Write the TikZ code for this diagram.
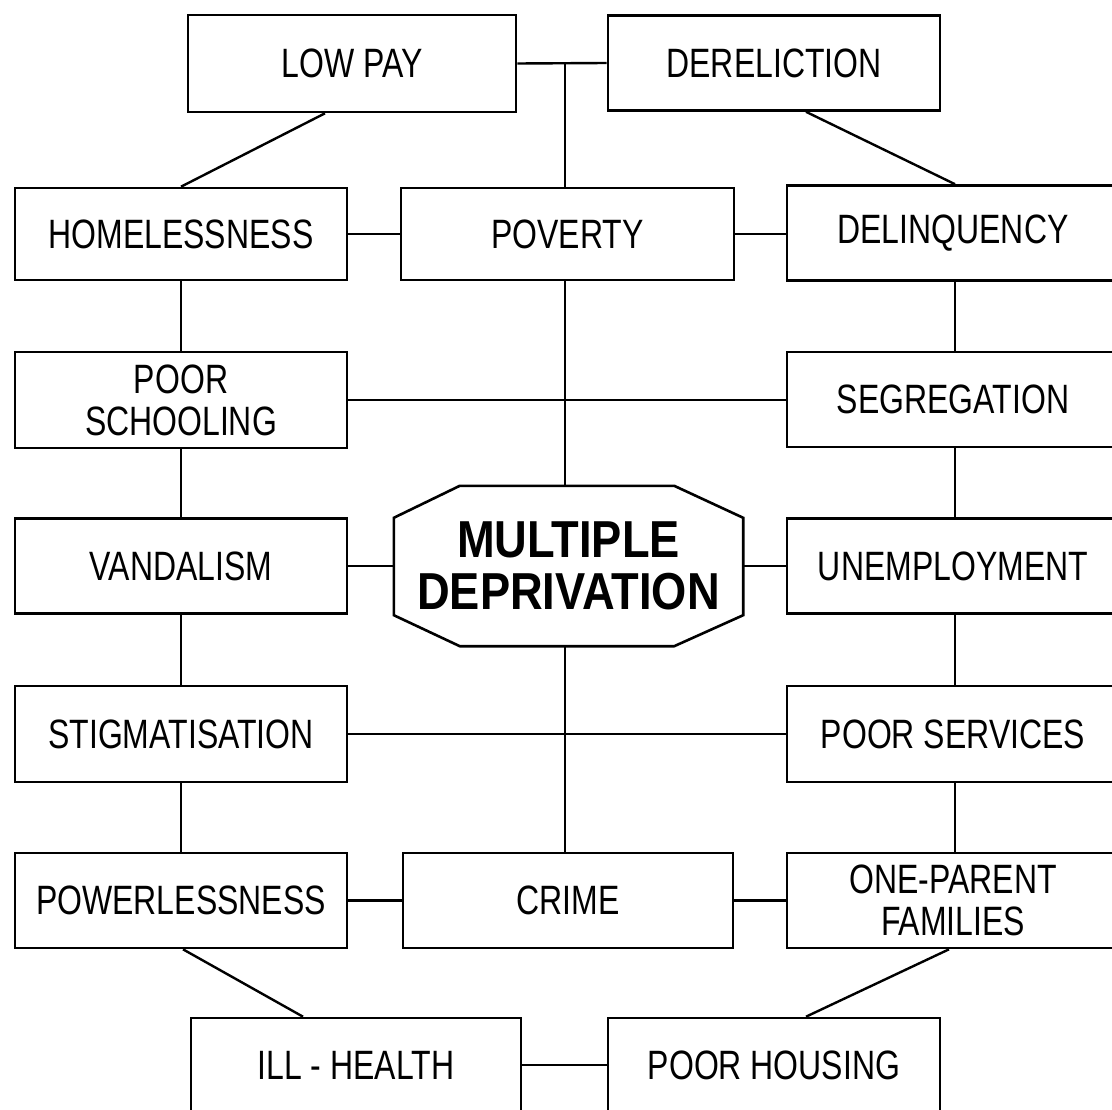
\documentclass[tikz,border=0pt]{standalone}
\usepackage{fontspec}
\newfontfamily\boxfont{Liberation Sans}[FakeStretch=0.78]
\newfontfamily\mdfont{Liberation Sans}[FakeStretch=0.87]
\begin{document}
\begin{tikzpicture}[x=1pt,y=-1pt,
  conn/.style={line width=2.4pt},
  box/.style={draw, line width=2.6pt, minimum width=332pt, minimum height=94pt,
    inner sep=0pt, align=center, font=\boxfont\fontsize{41}{42}\selectfont},
  mdbox/.style={minimum width=349pt, minimum height=160pt, inner sep=0pt,
    align=center, font=\mdfont\bfseries\fontsize{52}{52}\selectfont}]
\useasboundingbox (0,0) rectangle (1112,1110);
\clip (0,0) rectangle (1112,1110);
\fill[white] (0,0) rectangle (1112,1110);

% nodes
\node[box, minimum width=328pt, minimum height=97pt] (lowpay) at (352,63.5) {LOW PAY};
\node[box, minimum height=95pt] (dereliction) at (774,63) {DERELICTION};
\node[box, minimum height=92pt] (homeless) at (181,234) {HOMELESSNESS};
\node[box, minimum width=333pt, minimum height=92pt] (poverty) at (567.5,234) {POVERTY};
\node[box, minimum height=95pt] (delinq) at (953,233) {DELINQUENCY};
\node[box, minimum height=96pt] (schooling) at (181,400) {POOR\\SCHOOLING};
\node[box, minimum height=95pt] (segregation) at (953,399.5) {SEGREGATION};
\node[box, minimum height=95pt] (vandal) at (181,566) {VANDALISM};
\node[mdbox] (md) at (568.5,566) {MULTIPLE\\DEPRIVATION};
\node[box, minimum height=95pt] (unemploy) at (953,566) {UNEMPLOYMENT};
\node[box, minimum height=96pt] (stigma) at (181,734) {STIGMATISATION};
\node[box, minimum height=96pt] (services) at (953,734) {POOR SERVICES};
\node[box, minimum height=95pt] (powerless) at (181,900.5) {POWERLESSNESS};
\node[box, minimum width=330pt, minimum height=95pt] (crime) at (568,900.5) {CRIME};
\node[box, minimum height=95pt] (oneparent) at (953,900.5) {ONE-PARENT\\FAMILIES};
\node[box, minimum width=330pt, minimum height=94pt] (illhealth) at (356,1065) {ILL - HEALTH};
\node[box, minimum height=94pt] (housing) at (774,1065) {POOR HOUSING};

% octagon outline
\draw[line width=2.6pt]
  ([xshift=66pt]md.north west) -- ([xshift=-69pt]md.north east)
  -- ([yshift=-32pt]md.north east) -- ([yshift=31pt]md.south east)
  -- ([xshift=-69pt]md.south east) -- ([xshift=66pt]md.south west)
  -- ([yshift=31pt]md.south west) -- ([yshift=-32pt]md.north west) -- cycle;

% top connectors
\coordinate (topj) at (565,63);
\draw[conn] (lowpay.east) -- (dereliction.west);
\draw[conn] (topj) -- (topj |- poverty.north);
\draw[conn] ([xshift=-27pt]lowpay.south) -- (homeless.north);
\draw[conn] ([xshift=32pt]dereliction.south) -- ([xshift=2pt]delinq.north);

% row 1
\draw[conn] (homeless.east) -- (poverty.west);
\draw[conn] (poverty.east) -- (delinq.west |- poverty.east);

% centre vertical
\draw[conn] (topj |- poverty.south) -- (topj |- md.north);
\draw[conn] (topj |- md.south) -- (topj |- crime.north);

% left column
\draw[conn] (homeless.south) -- (schooling.north);
\draw[conn] (schooling.south) -- (vandal.north);
\draw[conn] (vandal.south) -- (stigma.north);
\draw[conn] (stigma.south) -- (powerless.north);

% right column
\draw[conn] ([xshift=2pt]delinq.south) -- ([xshift=2pt]segregation.north);
\draw[conn] ([xshift=2pt]segregation.south) -- ([xshift=2pt]unemploy.north);
\draw[conn] ([xshift=2pt]unemploy.south) -- ([xshift=2pt]services.north);
\draw[conn] ([xshift=2pt]services.south) -- ([xshift=2pt]oneparent.north);

% horizontal links
\draw[conn] (schooling.east) -- (segregation.west |- schooling.east);
\draw[conn] (vandal.east) -- (md.west);
\draw[conn] (md.east) -- (unemploy.west);
\draw[conn] (stigma.east) -- (services.west);
\draw[conn] (powerless.east) -- (crime.west);
\draw[conn] (crime.east) -- (oneparent.west);

% bottom
\draw[conn] ([xshift=2pt]powerless.south) -- ([xshift=-53pt]illhealth.north);
\draw[conn] ([xshift=-4pt]oneparent.south) -- ([xshift=32pt]housing.north);
\draw[conn] (illhealth.east) -- (housing.west);
\end{tikzpicture}
\end{document}
